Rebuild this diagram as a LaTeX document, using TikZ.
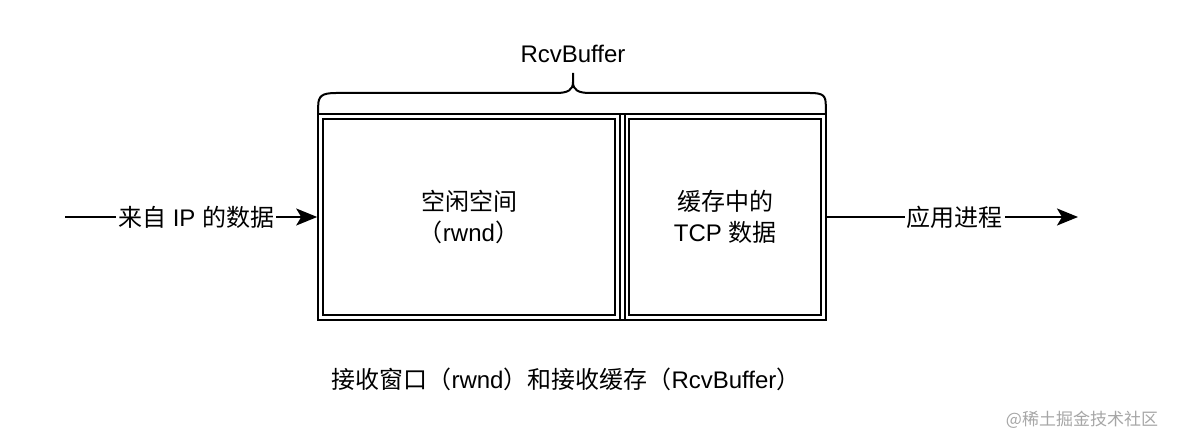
\documentclass[tikz,border=0pt]{standalone}
\usepackage{fontspec}
\setmainfont{Liberation Sans}
\newfontfamily\cjk{Noto Sans CJK SC}
\usetikzlibrary{arrows.meta,positioning}
\newcommand{\zh}[1]{{\cjk #1}}

\tikzset{
  part/.style={draw,double,line width=2pt,double distance=2.6pt,inner sep=0pt},
  lbl/.style={font=\fontsize{24}{31}\selectfont,align=center},
  flow/.style={line width=2pt,-{Stealth[length=21pt,width=17pt,inset=5pt]}},
}

\begin{document}
\begin{tikzpicture}[x=1pt,y=-1pt]
    \useasboundingbox (0,0) rectangle (1178,446);

    % Receive buffer
    \node[draw,line width=2pt,minimum width=507.6pt,minimum height=205.6pt,inner sep=0pt] (buf) at (572,217) {};
    \node[part,lbl,minimum width=297pt,minimum height=201pt] (free) at (469,217) {\zh{空闲空间}\\\zh{（}rwnd\zh{）}};
    \node[part,lbl,minimum width=196.5pt,minimum height=201pt] (used) at (725.25,217) {\zh{缓存中的}\\TCP \zh{数据}};

    % Brace
    \draw[line width=2pt] (318.2,114.2) -- (318.2,106) .. controls (318.2,96) and (322,93) .. (336,93)
        -- (556,93) .. controls (568,93) and (573,90) .. (573,82) -- (573,73);
    \draw[line width=2pt] (573,82) .. controls (573,90) and (578,93) .. (590,93)
        -- (810,93) .. controls (824,93) and (825.8,96) .. (825.8,106) -- (825.8,114.2);
    \node[lbl] (bufname) at (573,54) {RcvBuffer};

    % In and out
    \coordinate (src) at (65,217);
    \coordinate (app) at (1078,217);
    \draw[flow] (src) -- (buf.west) node[pos=0.52,fill=white,inner sep=2pt,lbl] (inlbl) {\zh{来自} IP \zh{的数据}};
    \draw[flow] (buf.east) -- (app) node[pos=0.51,fill=white,inner sep=2pt,lbl] (outlbl) {\zh{应用进程}};

    % Caption
    \node[lbl] (caption) at (566,379) {\zh{接收窗口（}rwnd\zh{）和接收缓存（}RcvBuffer\zh{）}};
    \node[font=\fontsize{17}{20}\selectfont,text=black!35] (mark) at (1082,420) {\zh{@稀土掘金技术社区}};
\end{tikzpicture}
\end{document}
